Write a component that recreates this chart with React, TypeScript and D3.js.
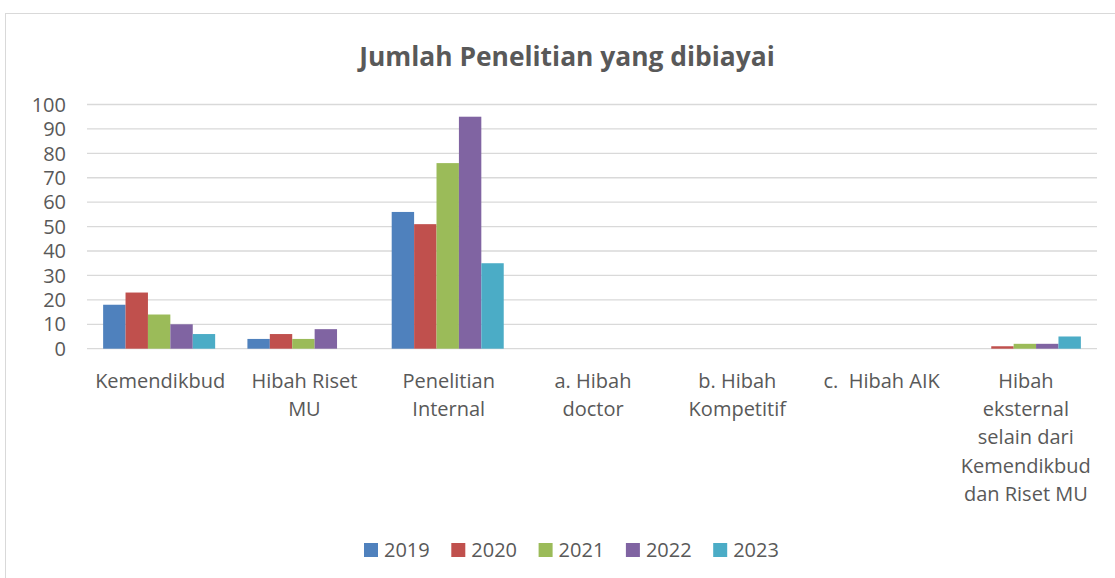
import React from "react";
import * as d3 from "d3";

const categories = [
  "Kemendikbud",
  "Hibah Riset MU",
  "Penelitian Internal",
  "a. Hibah doctor",
  "b. Hibah Kompetitif",
  "c.  Hibah AIK",
  "Hibah eksternal selain dari Kemendikbud dan Riset MU",
];
const categoryLines = [
  ["Kemendikbud"],
  ["Hibah Riset", "MU"],
  ["Penelitian", "Internal"],
  ["a. Hibah", "doctor"],
  ["b. Hibah", "Kompetitif"],
  ["c.  Hibah AIK"],
  ["Hibah", "eksternal", "selain dari", "Kemendikbud", "dan Riset MU"],
];
const years = ["2019", "2020", "2021", "2022", "2023"];
const v2019 = [18, 4, 56, 0, 0, 0, 0];
const v2020 = [23, 6, 51, 0, 0, 0, 1];
const v2021 = [14, 4, 76, 0, 0, 0, 2];
const v2022 = [10, 8, 95, 0, 0, 0, 2];
const v2023 = [6, 0, 35, 0, 0, 0, 5];
const seriesValues = [v2019, v2020, v2021, v2022, v2023];
const colors = ["#4F81BD", "#C0504D", "#9BBB59", "#8064A2", "#4BACC6"];
const yTicks = [0, 10, 20, 30, 40, 50, 60, 70, 80, 90, 100];
const title = "Jumlah Penelitian yang dibiayai";

const FONT = "'Open Sans', sans-serif";
const TEXT = "#595959";

export default function App() {
  const x0 = d3.scaleBand<string>().domain(categories).range([87, 1097]).padding(0);
  const x1 = d3
    .scaleBand<string>()
    .domain(years)
    .range([0, x0.bandwidth()])
    .paddingInner(0)
    .paddingOuter(0.72);
  const y = d3.scaleLinear().domain([0, 100]).range([348.7, 104.5]);

  return (
    <svg
      width={1115}
      height={578}
      style={{ position: "absolute", left: 0, top: 0, background: "#fff" }}
      fontFamily={FONT}
    >
      <rect x={5.5} y={13.5} width={1130} height={600} fill="#fff" stroke="#D9D9D9" strokeWidth={1} />
      <text x={567} y={66} textAnchor="middle" fontSize={26.4} fontWeight="bold" fill={TEXT}>
        {title}
      </text>
      {yTicks.map((t) => (
        <g key={t}>
          <line x1={87} x2={1097} y1={y(t)} y2={y(t)} stroke="#D9D9D9" strokeWidth={1.3} />
          <text x={66} y={y(t)} dy="0.36em" textAnchor="end" fontSize={20} fill={TEXT}>
            {t}
          </text>
        </g>
      ))}
      {categories.map((c, ci) => (
        <g key={c} transform={`translate(${x0(c)},0)`}>
          {years.map((yr, si) => {
            const v = seriesValues[si][ci];
            return (
              <rect
                key={yr}
                x={x1(yr)}
                y={y(v)}
                width={x1.bandwidth()}
                height={y(0) - y(v)}
                fill={colors[si]}
              />
            );
          })}
          {categoryLines[ci].map((ln, li) => (
            <text
              key={li}
              x={x0.bandwidth() / 2 + 1}
              y={387.5 + li * 28.4}
              textAnchor="middle"
              fontSize={20}
              fill={TEXT}
              style={{ whiteSpace: "pre" }}
            >
              {ln}
            </text>
          ))}
        </g>
      ))}
      {years.map((yr, si) => {
        const lx = 364 + si * 87.3;
        return (
          <g key={yr}>
            <rect x={lx} y={543} width={14} height={14} fill={colors[si]} />
            <text x={lx + 20} y={550} dy="0.36em" fontSize={20} fill={TEXT}>
              {yr}
            </text>
          </g>
        );
      })}
    </svg>
  );
}
